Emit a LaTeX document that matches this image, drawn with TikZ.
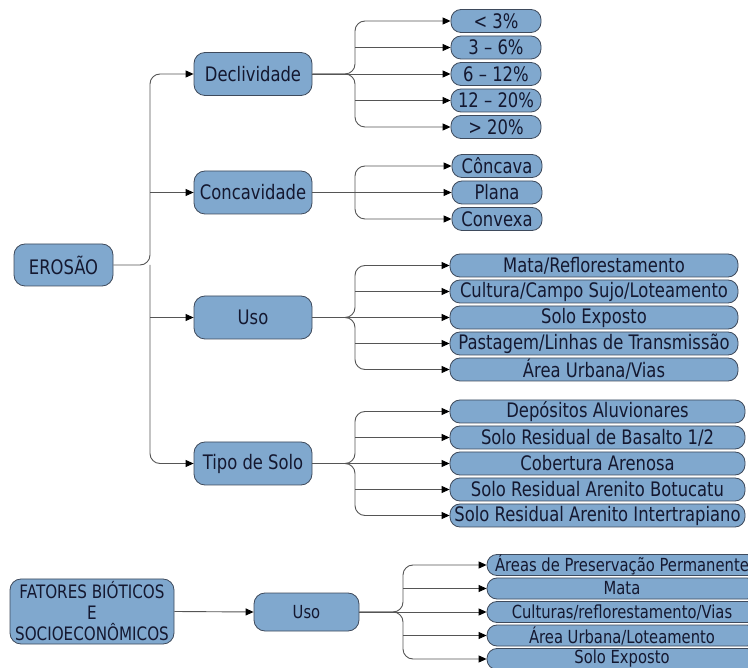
\documentclass[tikz,border=0pt]{standalone}
\usepackage{fontspec}
\setmainfont{DejaVu Sans}[FakeStretch=0.82]
\usetikzlibrary{arrows.meta}

\definecolor{nodefill}{RGB}{128,168,206}
\definecolor{nodeline}{RGB}{62,74,92}
\definecolor{nodetext}{RGB}{20,24,48}
\definecolor{linkcol}{RGB}{85,85,85}

\tikzset{
  topic/.style={draw=nodeline, fill=nodefill, text=nodetext, line width=0.8pt,
    rounded corners=11pt, inner sep=0pt, minimum width=118pt, minimum height=43pt,
    font=\fontsize{20}{22}\selectfont},
  leaf/.style={topic, rounded corners=10pt, minimum width=90pt, minimum height=23pt},
  wideleaf/.style={leaf, minimum width=288pt},
  lowleaf/.style={leaf, minimum width=270pt, minimum height=21pt,
    font=\fontsize{18}{20}\selectfont},
  conn/.style={draw=linkcol, line width=0.9pt,
    -{Triangle[length=8pt,width=7pt,color=black,fill=black]}}
}

\begin{document}
\begin{tikzpicture}[x=1pt,y=-1pt]

      \useasboundingbox (0,0) rectangle (748,668);

      % joints of the braces
      \coordinate (trunk) at (150,0);
      \coordinate (jtop) at (355,0);
      \coordinate (jbot) at (403,0);

      \node[topic, minimum width=99pt, minimum height=42pt] (ero) at (63.5,265) {EROSÃO};

      \node[topic] (dec) at (253,74) {Declividade};
      \node[topic] (con) at (253,192.5) {Concavidade};
      \node[topic] (uso) at (253,317.5) {Uso};
      \node[topic] (tip) at (253,463.5) {Tipo de Solo};

      \node[leaf] (d1) at (496,21) {< 3\%};
      \node[leaf] (d2) at (496,47.5) {3 – 6\%};
      \node[leaf] (d3) at (496,74) {6 – 12\%};
      \node[leaf] (d4) at (496,100.5) {12 – 20\%};
      \node[leaf] (d5) at (496,127) {> 20\%};

      \node[leaf] (c1) at (497,166) {Côncava};
      \node[leaf] (c2) at (497,192.5) {Plana};
      \node[leaf] (c3) at (497,219) {Convexa};

      \node[wideleaf] (u1) at (594,265.5) {Mata/Reflorestamento};
      \node[wideleaf] (u2) at (594,291.5) {Cultura/Campo Sujo/Loteamento};
      \node[wideleaf] (u3) at (594,317.5) {Solo Exposto};
      \node[wideleaf] (u4) at (594,343.5) {Pastagem/Linhas de Transmissão};
      \node[wideleaf] (u5) at (594,369.5) {Área Urbana/Vias};

      \node[wideleaf, minimum width=295pt] (t1) at (597.5,411.5) {Depósitos Aluvionares};
      \node[wideleaf, minimum width=295pt] (t2) at (597.5,437.5) {Solo Residual de Basalto 1/2};
      \node[wideleaf, minimum width=295pt] (t3) at (597.5,463.5) {Cobertura Arenosa};
      \node[wideleaf, minimum width=295pt] (t4) at (597.5,489.5) {Solo Residual Arenito Botucatu};
      \node[wideleaf, minimum width=295pt] (t5) at (597.5,515.5) {Solo Residual Arenito Intertrapiano};

      \node[topic, minimum width=164pt, minimum height=65pt, align=center,
        font=\fontsize{18.5}{21}\selectfont] (fat) at (92,611.5)
        {FATORES BIÓTICOS\\E\\SOCIOECONÔMICOS};
      \node[topic, minimum width=105pt, minimum height=38pt,
        font=\fontsize{18}{20}\selectfont] (uso2) at (306.5,612) {Uso};

      \node[lowleaf] (b1) at (622,565) {Áreas de Preservação Permanente};
      \node[lowleaf] (b2) at (622,588.5) {Mata};
      \node[lowleaf] (b3) at (622,612) {Culturas/reflorestamento/Vias};
      \node[lowleaf] (b4) at (622,635.5) {Área Urbana/Loteamento};
      \node[lowleaf] (b5) at (622,659) {Solo Exposto};

      % trunk from EROSÃO
      \draw[conn, rounded corners=10pt] (ero.east) -| (trunk |- dec.west) -- (dec.west);
      \draw[conn, rounded corners=10pt] (trunk |- ero.east) |- (tip.west);
      \draw[conn] (trunk |- con.west) -- (con.west);
      \draw[conn] (trunk |- uso.west) -- (uso.west);

      % Declividade
      \draw[conn, rounded corners=10pt] (dec.east) -| (jtop |- d1.west) -- (d1.west);
      \draw[conn, rounded corners=10pt] (dec.east) -| (jtop |- d5.west) -- (d5.west);
      \draw[conn] (dec.east) -- (d3.west);
      \foreach \n in {d2,d4}
        \draw[conn] (jtop |- \n.west) -- (\n.west);

      % Concavidade
      \draw[conn] (con.east) -- (c2.west);
      \draw[conn, rounded corners=10pt] (jtop |- c2.west) |- (c1.west);
      \draw[conn, rounded corners=10pt] (jtop |- c2.west) |- (c3.west);

      % Uso
      \draw[conn, rounded corners=10pt] (uso.east) -| (jtop |- u1.west) -- (u1.west);
      \draw[conn, rounded corners=10pt] (uso.east) -| (jtop |- u5.west) -- (u5.west);
      \draw[conn] (uso.east) -- (u3.west);
      \foreach \n in {u2,u4}
        \draw[conn] (jtop |- \n.west) -- (\n.west);

      % Tipo de Solo
      \draw[conn, rounded corners=10pt] (tip.east) -| (jtop |- t1.west) -- (t1.west);
      \draw[conn, rounded corners=10pt] (tip.east) -| (jtop |- t5.west) -- (t5.west);
      \draw[conn] (tip.east) -- (t3.west);
      \foreach \n in {t2,t4}
        \draw[conn] (jtop |- \n.west) -- (\n.west);

      % fatores bioticos
      \draw[conn] (fat.east) -- (uso2.west);
      \draw[conn, rounded corners=10pt] (uso2.east) -| (jbot |- b1.west) -- (b1.west);
      \draw[conn, rounded corners=10pt] (uso2.east) -| (jbot |- b5.west) -- (b5.west);
      \draw[conn] (uso2.east) -- (b3.west);
      \foreach \n in {b2,b4}
        \draw[conn] (jbot |- \n.west) -- (\n.west);

    \end{tikzpicture}
\end{document}
